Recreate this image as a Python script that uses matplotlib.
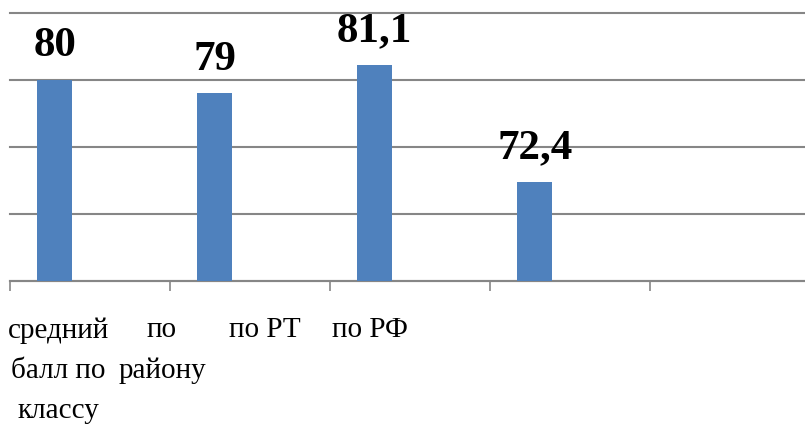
import matplotlib
matplotlib.use('Agg')
import matplotlib.pyplot as plt
import numpy as np

categories = ["средний\nбалл по\nклассу", "по\nрайону", "по РТ", "по РФ"]
values = [80, 79, 81.1, 72.4]
n_slots = 5  # the chart keeps one empty category on the right

W, H = 805, 429
fig = plt.figure(figsize=(W / 100, H / 100), dpi=100)
fig.patch.set_facecolor('white')

# axes box in pixels: left 10, right 810 (runs past the edge), top 13, bottom 281
ax = fig.add_axes([10 / W, (H - 281) / H, 800 / W, 268 / H])
ax.set_facecolor('white')

x = np.arange(len(values))
bar_w = 0.22
bars = ax.bar(x - bar_w, values, width=bar_w, color='#4F81BD', zorder=3)

for b, v in zip(bars, values):
    txt = f"{v:g}".replace('.', ',')
    ax.annotate(txt, (b.get_x() + b.get_width() / 2, v), xytext=(0, 17),
                textcoords='offset points', ha='center', va='baseline',
                fontsize=31, fontweight='bold', family='Liberation Serif',
                color='black')

ax.set_xlim(-0.5, n_slots - 0.5)
ax.set_ylim(65, 85)
ax.set_yticks([65, 70, 75, 80, 85])
ax.yaxis.grid(True, color='#868686', linewidth=1.5, zorder=0)
for gl in ax.get_ygridlines():
    gl.set_clip_on(False)
ax.tick_params(axis='y', left=False, labelleft=False)

ax.set_xticks(np.arange(-0.5, n_slots, 1.0))
ax.tick_params(axis='x', direction='out', length=7.5, width=1.2,
               color='#868686', labelbottom=False)

for s in ['left', 'right', 'top']:
    ax.spines[s].set_visible(False)
ax.spines['bottom'].set_color('#868686')
ax.spines['bottom'].set_linewidth(1.5)

# category labels sit left of their slots in the original
label_x = [58, 162, 265, 370]
for lx, lab in zip(label_x, categories):
    fig.text(lx / W, 1 - 317 / H, lab, ha='center', va='top', fontsize=21,
             family='Liberation Serif', linespacing=1.7, color='black')

plt.savefig('out.png', dpi=100, facecolor='white')
